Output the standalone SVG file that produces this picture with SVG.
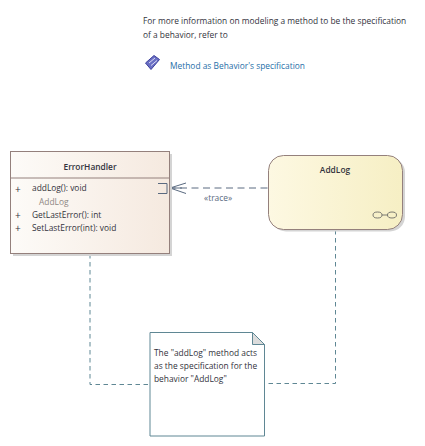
<svg xmlns="http://www.w3.org/2000/svg" width="425" height="446" viewBox="0 0 425 446">
<style>
text{font-family:"Open Sans","Noto Sans","DejaVu Sans",sans-serif;font-size:8.400px;fill:#33333d}
.b{font-weight:600;text-anchor:middle}
.c{fill:none;stroke:#5f8794;stroke-width:1;stroke-dasharray:4.500 3.500}
.p{font-size:10px}
</style>
<defs>
<linearGradient id="g1"><stop offset="0" stop-color="#fdfbf8"/><stop offset="1" stop-color="#f5e9df"/></linearGradient>
<linearGradient id="g2"><stop offset="0" stop-color="#fdf8e2"/><stop offset="1" stop-color="#f6efc4"/></linearGradient>
</defs>
<rect width="425" height="446" fill="#fff"/>
<g id="info">
<text x="143" y="24">For more information on modeling a method to be the specification</text>
<text x="143" y="38">of a behavior, refer to</text>
<g id="link-icon">
<path d="M145.500 63L154 55.500L159.500 59.500L151 69.500Z" fill="#6a6fc4" stroke="#3b3f9c" stroke-width="1"/>
<path d="M149 63L155 58M151 65.500L157 60.500" stroke="#dcdcf5" stroke-width="1" fill="none"/>
</g>
<text x="170" y="69" style="fill:#1f6fa8">Method as Behavior's specification</text>
</g>
<g id="connectors">
<path d="M267.500 188H172" fill="none" stroke="#5a6a80" stroke-dasharray="7 4.500"/>
<path d="M186 183L170 188L186 193.500M170 188H182" fill="none" stroke="#5a6a80" stroke-width="1"/>
<path class="c" d="M90 254V384.500H150"/>
<path class="c" d="M335.500 230V383.500H265"/>
</g>
<g id="ErrorHandler">
<rect x="13" y="154" width="159" height="102" fill="#d4d4d4"/>
<rect x="10.500" y="151.500" width="159" height="102" fill="url(#g1)" stroke="#94807c"/>
<path d="M10.500 178H169.500" stroke="#94807c"/>
<path d="M158 183.500H167V193.500H158" fill="none" stroke="#5a6a80"/>
<text class="b" x="90" y="170">ErrorHandler</text>
<text class="p" x="15" y="193">+</text><text x="32" y="191">addLog(): void</text>
<text x="39" y="205" style="fill:#8f8783">AddLog</text>
<text class="p" x="15" y="219">+</text><text x="32" y="218">GetLastError(): int</text>
<text class="p" x="15" y="232">+</text><text x="32" y="231">SetLastError(int): void</text>
</g>
<text x="204" y="201" style="fill:#5a6a80">«trace»</text>
<g id="AddLog">
<rect x="271" y="157.500" width="134" height="74" rx="15" fill="#d4d4d4"/>
<rect x="268.500" y="155.500" width="134" height="74" rx="15" fill="url(#g2)" stroke="#94807c"/>
<text class="b" x="335" y="173">AddLog</text>
<ellipse cx="377.500" cy="215" rx="4.500" ry="3" fill="none" stroke="#5a5a5a" stroke-width=".8"/>
<ellipse cx="392" cy="215" rx="4.500" ry="3" fill="none" stroke="#5a5a5a" stroke-width=".8"/>
<path d="M382 215H387.500" stroke="#5a5a5a" stroke-width=".8"/>
</g>
<g id="Note">
<path d="M150 332.500H252.500L264.500 344.500V436H150Z" fill="#fff" stroke="#5f8794"/>
<path d="M252.500 332.500V344.500H264.500Z" fill="#dcdcdc" stroke="#5f8794"/>
<text x="154" y="356">The "addLog" method acts</text>
<text x="154" y="369">as the specification for the</text>
<text x="154" y="382">behavior "AddLog"</text>
</g>
</svg>
